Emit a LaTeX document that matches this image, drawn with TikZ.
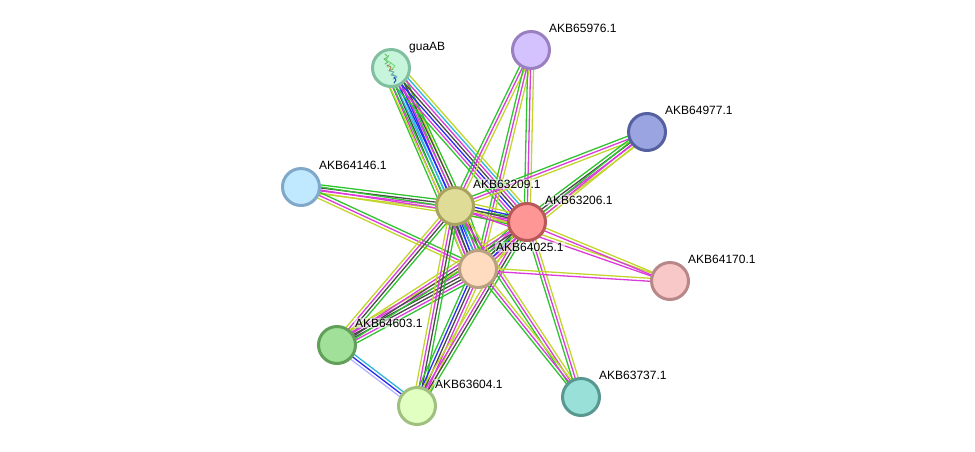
\documentclass[tikz,border=0pt]{standalone}
\usepackage{fontspec}
\setmainfont{Liberation Sans}
\usetikzlibrary{calc,backgrounds}
\definecolor{lm}{HTML}{C2D52C}
\definecolor{gn}{HTML}{2FC42F}
\definecolor{mg}{HTML}{DA3BDA}
\definecolor{dk}{HTML}{4A4A4A}
\definecolor{bl}{HTML}{2A2AF0}
\definecolor{cy}{HTML}{2FB6DC}
\definecolor{lv}{HTML}{B4B4FF}
\definecolor{fa}{HTML}{C6F5DC}\definecolor{sa}{HTML}{80BF9F}
\definecolor{fb}{HTML}{D4C2FF}\definecolor{sb}{HTML}{9A80C0}
\definecolor{fc}{HTML}{9AA4E0}\definecolor{sc}{HTML}{5560A0}
\definecolor{fd}{HTML}{C0E8FF}\definecolor{sd}{HTML}{80A8C8}
\definecolor{fe}{HTML}{DFDC98}\definecolor{se}{HTML}{A8A460}
\definecolor{ff}{HTML}{FF9696}\definecolor{sf}{HTML}{B85858}
\definecolor{fg}{HTML}{FFDCC0}\definecolor{sg}{HTML}{B8A080}
\definecolor{fh}{HTML}{F8C8C8}\definecolor{sh}{HTML}{B88888}
\definecolor{fi}{HTML}{A0E098}\definecolor{si}{HTML}{60A058}
\definecolor{fj}{HTML}{E0FFC0}\definecolor{sj}{HTML}{A0C080}
\definecolor{fk}{HTML}{98E0D8}\definecolor{sk}{HTML}{589890}
\tikzset{
  edge/.style={line width=1.3pt},
  protein/.style n args={2}{circle,minimum size=37pt,inner sep=0pt,line width=3pt,fill=#1,draw=#2},
  tag/.style={font=\fontsize{12}{14}\selectfont,anchor=base west,inner sep=1pt,xshift=-1pt,
    text=black,fill=white,fill opacity=.55,text opacity=1},
  ribbon/.style={line width=.9pt,line cap=round,line join=round}
}
\newcount\bundlesize
% one parallel line per evidence colour between two proteins
\newcommand\bundle[3]{%
  \global\bundlesize=0
  \foreach \c in {#3}{\global\advance\bundlesize by 1 }
  \foreach \c [count=\i] in {#3}{%
    \pgfmathsetmacro\off{(\i-(\the\bundlesize+1)/2)*3}
    \draw[edge,\c] ($(#1)!\off pt!90:(#2)$) -- ($(#2)!\off pt!-90:(#1)$);
  }}
\begin{document}
\begin{tikzpicture}[x=1pt,y=-1pt]
\useasboundingbox (0,0) rectangle (975,451);
\node[protein={fa}{sa}] (guaAB) at (391,68) {};
\node[protein={fb}{sb}] (p976) at (531,50) {};
\node[protein={fc}{sc}] (p977) at (647,132) {};
\node[protein={fd}{sd}] (p146) at (301,187) {};
\node[protein={fe}{se}] (p209) at (455,206) {};
\node[protein={ff}{sf}] (p206) at (527,222) {};
\node[protein={fg}{sg}] (p025) at (478,269) {};
\node[protein={fh}{sh}] (p170) at (670,281) {};
\node[protein={fi}{si}] (p603) at (337,345) {};
\node[protein={fj}{sj}] (p604) at (417,406) {};
\node[protein={fk}{sk}] (p737) at (581,397) {};
\begin{scope}[on background layer]
\bundle{guaAB}{p025}{gn,mg,dk,cy,bl,gn,lm}
\bundle{guaAB}{p209}{lm,gn,cy,bl,mg,dk,gn}
\bundle{guaAB}{p206}{gn,mg,bl,dk,mg,cy,lm}
\bundle{p976}{p209}{gn,mg,lm}
\bundle{p976}{p025}{gn,mg,lm}
\bundle{p976}{p206}{gn,mg,lm}
\bundle{p977}{p209}{gn,mg,lm}
\bundle{p977}{p206}{gn,dk,mg,lm}
\bundle{p977}{p025}{gn,mg,lm}
\bundle{p146}{p209}{lm,mg,dk,gn}
\bundle{p146}{p206}{lm,mg,gn}
\bundle{p146}{p025}{lm,mg,gn}
\bundle{p209}{p206}{gn,mg,dk,bl,lm}
\bundle{p209}{p025}{lm,mg,dk,bl,cy,mg,dk,gn}
\bundle{p206}{p025}{gn,mg,dk,bl,mg,lm}
\bundle{p209}{p603}{lm,mg,dk,gn}
\bundle{p025}{p603}{lm,mg,dk,dk,mg,gn}
\bundle{p206}{p603}{lm,mg,dk,gn}
\bundle{p209}{p604}{lm,mg,dk,gn}
\bundle{p025}{p604}{gn,bl,dk,mg,lm}
\bundle{p206}{p604}{lm,mg,dk,gn}
\bundle{p209}{p737}{gn,mg,lm}
\bundle{p025}{p737}{gn,mg,lm}
\bundle{p206}{p737}{gn,mg,lm}
\bundle{p209}{p170}{mg,lm}
\bundle{p206}{p170}{mg,lm}
\bundle{p025}{p170}{mg,lm}
\bundle{p603}{p604}{lv,bl,cy}
\end{scope}
% small ribbon model inside the guaAB sphere
\draw[ribbon,green!55!black!60] (385,54) -- (388,57) -- (384,59) -- (388,62) -- (385,64);
\draw[ribbon,green!70!black!55] (389,55) -- (386,60) -- (391,63) -- (387,67);
\draw[ribbon,brown!70!gray] (387,65) -- (391,67) -- (389,71) -- (393,69);
\draw[ribbon,green!60!gray!70] (391,63) -- (395,66) -- (391,70);
\draw[ribbon,teal!60] (390,71) -- (394,72) -- (391,75) -- (396,76);
\draw[ribbon,cyan!60!black!70] (392,74) -- (397,77) -- (393,79);
\draw[ribbon,blue!50!teal] (394,77) -- (396,80) -- (394,83);
\node[tag] at (409,50) {guaAB};
\node[tag] at (549,32) {AKB65976.1};
\node[tag] at (665,114) {AKB64977.1};
\node[tag] at (319,169) {AKB64146.1};
\node[tag] at (473,188) {AKB63209.1};
\node[tag] at (545,204) {AKB63206.1};
\node[tag] at (496,251) {AKB64025.1};
\node[tag] at (688,263) {AKB64170.1};
\node[tag] at (355,327) {AKB64603.1};
\node[tag] at (435,388) {AKB63604.1};
\node[tag] at (599,379) {AKB63737.1};
\end{tikzpicture}
\end{document}
